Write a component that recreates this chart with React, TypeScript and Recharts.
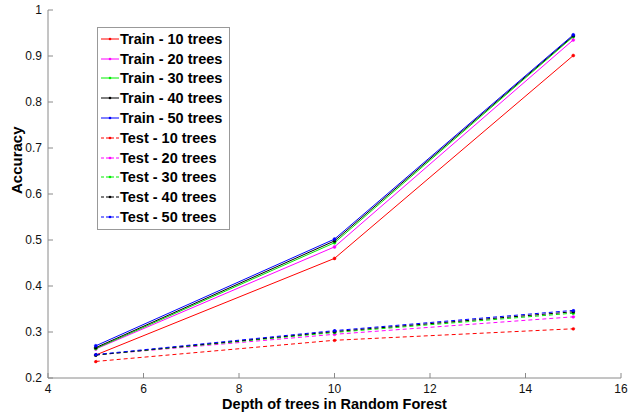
import React from 'react'
import {LineChart, Line, XAxis, YAxis, Legend} from 'recharts'

const depths = [5, 10, 15]

const train10 = [0.25, 0.46, 0.901]
const train20 = [0.263, 0.485, 0.935]
const train30 = [0.264, 0.494, 0.942]
const train40 = [0.266, 0.498, 0.944]
const train50 = [0.27, 0.502, 0.946]

const test10 = [0.236, 0.282, 0.307]
const test20 = [0.25, 0.295, 0.333]
const test30 = [0.25, 0.299, 0.341]
const test40 = [0.25, 0.301, 0.344]
const test50 = [0.251, 0.303, 0.347]

const xTicks = [4, 6, 8, 10, 12, 14, 16]
const yTicks = [0.2, 0.3, 0.4, 0.5, 0.6, 0.7, 0.8, 0.9, 1]

const series = [
    {key: 'train10', name: 'Train - 10 trees', color: '#ff0000', dashed: false, values: train10},
    {key: 'train20', name: 'Train - 20 trees', color: '#ff00ff', dashed: false, values: train20},
    {key: 'train30', name: 'Train - 30 trees', color: '#00ee00', dashed: false, values: train30},
    {key: 'train40', name: 'Train - 40 trees', color: '#000000', dashed: false, values: train40},
    {key: 'train50', name: 'Train - 50 trees', color: '#0000ff', dashed: false, values: train50},
    {key: 'test10', name: 'Test - 10 trees', color: '#ff0000', dashed: true, values: test10},
    {key: 'test20', name: 'Test - 20 trees', color: '#ff00ff', dashed: true, values: test20},
    {key: 'test30', name: 'Test - 30 trees', color: '#00ee00', dashed: true, values: test30},
    {key: 'test40', name: 'Test - 40 trees', color: '#000000', dashed: true, values: test40},
    {key: 'test50', name: 'Test - 50 trees', color: '#0000ff', dashed: true, values: test50},
]

const data = depths.map((d, i) => {
    const row: any = {depth: d}
    series.forEach(s => { row[s.key] = s.values[i] })
    return row
})

const font = '"Liberation Sans", Arial, sans-serif'
const axisColor = '#8a8a8a'

function LegendBox() {
    return (
        <div style={{border: '1px solid #999', background: '#fff', padding: '1px 7px 2px 2px', fontFamily: font}}>
            {series.map(s => (
                <div key={s.key} style={{display: 'flex', alignItems: 'center', height: 19.8}}>
                    <svg width={20} height={10}>
                        <line x1={1} y1={5} x2={19} y2={5} stroke={s.color} strokeWidth={1}
                              strokeDasharray={s.dashed ? '3 2' : undefined}/>
                        <circle cx={10} cy={5} r={1.3} fill={s.color}/>
                    </svg>
                    <span style={{fontSize: 14.5, fontWeight: 'bold', color: '#000'}}>{s.name}</span>
                </div>
            ))}
        </div>
    )
}

export default function App() {
    return (
        <div style={{position: 'absolute', left: 0, top: 0, background: '#fff'}}>
            <LineChart width={631} height={412} data={data} margin={{top: 10, right: 10, bottom: 0, left: 0}}>
                <XAxis dataKey="depth" type="number" domain={[4, 16]} ticks={xTicks}
                       stroke={axisColor} tickSize={-5} tickMargin={11} height={34}
                       tick={{fill: '#111', fontSize: 12, fontFamily: font}}
                       label={{value: 'Depth of trees in Random Forest', position: 'insideBottom', offset: 3,
                           fill: '#000', fontSize: 14.5, fontWeight: 'bold', fontFamily: font}}/>
                <XAxis xAxisId="top" dataKey="depth" type="number" domain={[4, 16]} ticks={xTicks}
                       orientation="top" height={0} stroke={axisColor} tickSize={-5} tickFormatter={() => ''}/>
                <YAxis type="number" domain={[0.2, 1]} ticks={yTicks} width={48}
                       stroke={axisColor} tickSize={-5} tickMargin={11}
                       tickFormatter={(v: number) => (v === 1 ? '1' : v.toFixed(1))}
                       tick={{fill: '#111', fontSize: 12, fontFamily: font}}
                       label={{value: 'Accuracy', angle: -90, position: 'insideLeft', offset: 17,
                           fill: '#000', fontSize: 15, fontWeight: 'bold', fontFamily: font}}/>
                <YAxis yAxisId="right" orientation="right" type="number" domain={[0.2, 1]} ticks={yTicks}
                       width={0} stroke={axisColor} tickSize={-5} tickFormatter={() => ''}/>
                <Legend content={<LegendBox/>} layout="vertical" align="center" verticalAlign="middle"
                        wrapperStyle={{position: 'absolute', left: 97, top: 27, width: 'auto'}}/>
                {series.map(s => (
                    <Line key={s.key} dataKey={s.key} name={s.name} stroke={s.color} strokeWidth={1}
                          strokeDasharray={s.dashed ? '4 3' : undefined}
                          dot={{r: 1.5, fill: s.color, stroke: s.color, strokeWidth: 0.5}}
                          activeDot={false} isAnimationActive={false}/>
                ))}
            </LineChart>
        </div>
    )
}
